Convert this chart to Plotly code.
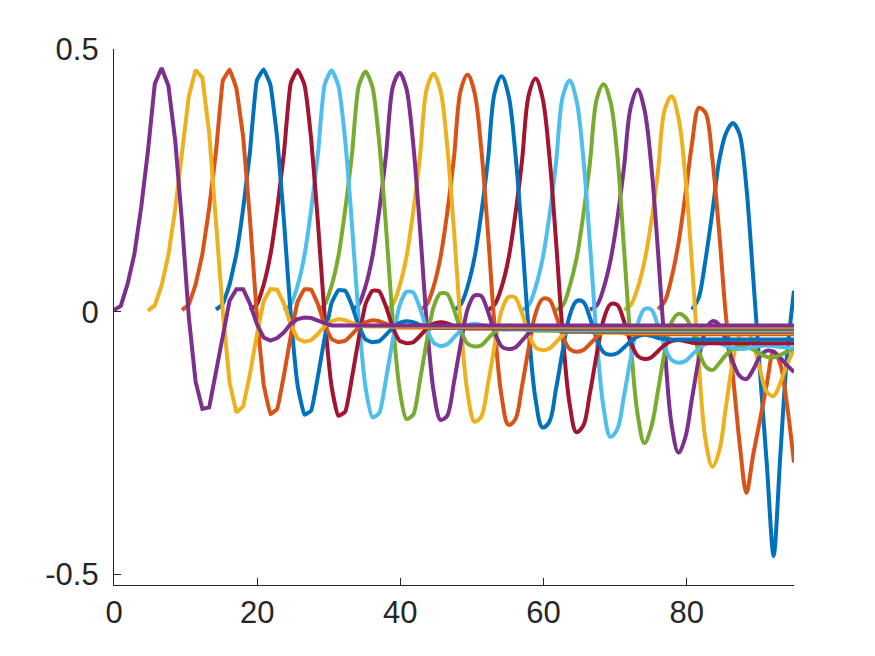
import plotly.graph_objects as go

# sample grid of the plot: 101 samples from 0 to 95
x_step = 0.95
n_samples = 101
shift = 5  # each curve starts 5 samples after the previous one

# values, one list per curve (curve k starts at sample 5*k);
# after the listed samples the curve stays flat at its tail level
curve_00 = [0.003, 0.011, 0.053, 0.110, 0.199, 0.307, 0.434, 0.464, 0.430, 0.326, 0.170,
            -0.010, -0.133, -0.185, -0.182, -0.115, -0.042, 0.021, 0.043, 0.043, 0.015,
            -0.023, -0.049, -0.055, -0.050, -0.039, -0.023, -0.014, -0.011, -0.012, -0.017,
            -0.022, -0.026]
curve_01 = [0.002, 0.012, 0.050, 0.108, 0.195, 0.300, 0.410, 0.460, 0.445, 0.340, 0.180,
            0.000, -0.135, -0.192, -0.180, -0.118, -0.045, 0.020, 0.043, 0.042, 0.015,
            -0.025, -0.051, -0.057, -0.054, -0.042, -0.027, -0.018, -0.014, -0.016, -0.021,
            -0.026, -0.028]
curve_02 = [0.003, 0.014, 0.052, 0.110, 0.198, 0.305, 0.440, 0.461, 0.425, 0.332, 0.175,
            -0.005, -0.138, -0.195, -0.185, -0.120, -0.046, 0.019, 0.043, 0.042, 0.014,
            -0.026, -0.052, -0.058, -0.055, -0.043, -0.029, -0.020, -0.016, -0.018, -0.023,
            -0.028, -0.030]
curve_03 = [0.004, 0.015, 0.052, 0.110, 0.197, 0.305, 0.440, 0.461, 0.432, 0.330, 0.172,
            -0.008, -0.140, -0.196, -0.188, -0.122, -0.048, 0.017, 0.041, 0.040, 0.012,
            -0.028, -0.053, -0.058, -0.056, -0.044, -0.030, -0.021, -0.018, -0.020, -0.025,
            -0.029, -0.031]
curve_04 = [0.003, 0.014, 0.051, 0.108, 0.196, 0.303, 0.435, 0.460, 0.432, 0.328, 0.168,
            -0.012, -0.142, -0.198, -0.190, -0.125, -0.050, 0.015, 0.040, 0.039, 0.010,
            -0.030, -0.055, -0.060, -0.058, -0.046, -0.032, -0.023, -0.020, -0.022, -0.027,
            -0.031, -0.032]
curve_05 = [0.003, 0.014, 0.050, 0.107, 0.195, 0.302, 0.433, 0.459, 0.430, 0.326, 0.165,
            -0.015, -0.145, -0.201, -0.193, -0.128, -0.053, 0.012, 0.038, 0.037, 0.007,
            -0.033, -0.059, -0.065, -0.062, -0.049, -0.035, -0.026, -0.023, -0.025, -0.029,
            -0.033, -0.034]
curve_06 = [0.003, 0.014, 0.050, 0.106, 0.194, 0.300, 0.430, 0.457, 0.428, 0.323, 0.162,
            -0.018, -0.148, -0.204, -0.196, -0.130, -0.056, 0.009, 0.035, 0.034, 0.004,
            -0.036, -0.061, -0.066, -0.064, -0.051, -0.038, -0.029, -0.026, -0.028, -0.032,
            -0.035, -0.036]
curve_07 = [0.003, 0.014, 0.049, 0.105, 0.192, 0.298, 0.428, 0.455, 0.425, 0.320, 0.158,
            -0.022, -0.151, -0.206, -0.198, -0.134, -0.060, 0.005, 0.031, 0.030, 0.000,
            -0.040, -0.066, -0.071, -0.068, -0.055, -0.041, -0.032, -0.029, -0.031, -0.035,
            -0.038, -0.038]
curve_08 = [0.003, 0.014, 0.049, 0.104, 0.190, 0.296, 0.425, 0.453, 0.422, 0.316, 0.154,
            -0.026, -0.155, -0.209, -0.200, -0.137, -0.063, 0.002, 0.028, 0.027, -0.003,
            -0.043, -0.068, -0.073, -0.070, -0.058, -0.044, -0.035, -0.032, -0.034, -0.038,
            -0.040, -0.040]
curve_09 = [0.003, 0.014, 0.048, 0.103, 0.188, 0.294, 0.422, 0.451, 0.418, 0.311, 0.148,
            -0.032, -0.161, -0.215, -0.205, -0.142, -0.068, -0.003, 0.024, 0.023, -0.007,
            -0.047, -0.071, -0.076, -0.073, -0.061, -0.048, -0.039, -0.036, -0.038, -0.041,
            -0.043, -0.043]
curve_10 = [0.003, 0.014, 0.048, 0.102, 0.186, 0.290, 0.418, 0.448, 0.413, 0.305, 0.142,
            -0.038, -0.167, -0.220, -0.210, -0.147, -0.073, -0.008, 0.020, 0.019, -0.012,
            -0.052, -0.077, -0.082, -0.079, -0.068, -0.056, -0.047, -0.044, -0.046, -0.050,
            -0.052, -0.053]
curve_11 = [0.003, 0.014, 0.047, 0.100, 0.183, 0.287, 0.413, 0.444, 0.408, 0.300, 0.135,
            -0.045, -0.175, -0.229, -0.217, -0.154, -0.080, -0.015, 0.014, 0.013, -0.018,
            -0.058, -0.084, -0.090, -0.087, -0.075, -0.063, -0.056, -0.054, -0.056, -0.059,
            -0.060, -0.060]
curve_12 = [0.003, 0.013, 0.047, 0.099, 0.180, 0.283, 0.410, 0.440, 0.403, 0.295, 0.128,
            -0.052, -0.183, -0.238, -0.224, -0.160, -0.088, -0.024, 0.005, 0.004, -0.027,
            -0.067, -0.092, -0.097, -0.094, -0.082, -0.070, -0.061, -0.058, -0.060, -0.065,
            -0.069, -0.071, -0.070, -0.067, -0.065, -0.064, -0.065, -0.067, -0.068, -0.068]
curve_13 = [0.003, 0.012, 0.048, 0.100, 0.183, 0.285, 0.405, 0.433, 0.400, 0.300, 0.120,
            -0.060, -0.195, -0.250, -0.220, -0.150, -0.075, -0.020, -0.004, -0.010, -0.035,
            -0.075, -0.104, -0.111, -0.098, -0.082, -0.070, -0.064, -0.065, -0.072, -0.080,
            -0.086, -0.087, -0.082, -0.076, -0.070]
curve_14 = [0.004, 0.012, 0.045, 0.097, 0.175, 0.275, 0.390, 0.423, 0.385, 0.280, 0.115,
            -0.070, -0.215, -0.268, -0.240, -0.165, -0.090, -0.035, -0.018, -0.025, -0.055,
            -0.095, -0.122, -0.128, -0.110, -0.085, -0.074, -0.076, -0.088, -0.102, -0.115]
curve_15 = [0.004, 0.013, 0.045, 0.095, 0.170, 0.268, 0.385, 0.410, 0.370, 0.260, 0.090,
            -0.100, -0.245, -0.295, -0.265, -0.180, -0.095, -0.045, -0.035, -0.060, -0.110,
            -0.152, -0.160, -0.135, -0.100, -0.071]
curve_16 = [0.005, 0.020, 0.065, 0.130, 0.220, 0.320, 0.388, 0.378, 0.290, 0.150, -0.010,
            -0.120, -0.250, -0.345, -0.272, -0.206, -0.138, -0.075, -0.100, -0.180, -0.287]
curve_17 = [0.004, 0.027, 0.100, 0.190, 0.288, 0.340, 0.359, 0.338, 0.237, 0.065, -0.116,
            -0.290, -0.465, -0.271, -0.078, 0.040]

curves = [curve_00, curve_01, curve_02, curve_03, curve_04, curve_05, curve_06, curve_07,
          curve_08, curve_09, curve_10, curve_11, curve_12, curve_13, curve_14, curve_15,
          curve_16, curve_17]
tails = [-0.026, -0.028, -0.030, -0.031, -0.032, -0.034, -0.036, -0.038, -0.040, -0.043,
         -0.053, -0.060, -0.068, None, None, None, None, None]

# the first curves show their corners, the later ones look smooth
smoothing = [0, 0, 0.15, 0.3, 0.45, 0.6, 0.7, 0.8, 0.9, 1.0, 1.0, 1.0, 1.0, 1.0, 1.0,
             1.0, 0.9, 0.8]

# MATLAB default colour order
colors = ["#0072BD", "#D95319", "#EDB120", "#7E2F8E", "#77AC30", "#4DBEEE", "#A2142F"]

x_ticks = [0, 20, 40, 60, 80]
y_ticks = [-0.5, 0, 0.5]
y_tick_text = ["-0.5", "0", "0.5"]

fig = go.Figure()

# MATLAB plots the last curve first, so draw from k=17 down to k=0
n_curves = len(curves)
for order, k in enumerate(range(n_curves - 1, -1, -1)):
    start = shift * k
    n = n_samples - start
    y = list(curves[k])
    if len(y) < n:
        y += [tails[k]] * (n - len(y))
    x = [(start + i) * x_step for i in range(n)]
    if smoothing[k] > 0:
        line = dict(color=colors[order % len(colors)], width=4,
                    shape="spline", smoothing=smoothing[k])
    else:
        line = dict(color=colors[order % len(colors)], width=4)
    fig.add_trace(go.Scatter(x=x, y=y, mode="lines", line=line,
                             showlegend=False, hoverinfo="skip"))

axis_style = dict(
    showline=True, linecolor="#262626", linewidth=1.3,
    ticks="inside", ticklen=7, tickwidth=1.3, tickcolor="#262626",
    showgrid=False, zeroline=False, mirror=False,
    tickfont=dict(family="Liberation Sans, Arial, sans-serif", size=31, color="#262626"),
)

fig.update_xaxes(range=[0, 95], tickvals=x_ticks, **axis_style)
fig.update_yaxes(range=[-0.52, 0.5], tickvals=y_ticks, ticktext=y_tick_text,
                 ticklabelstandoff=8, **axis_style)

# the page adds an 8 px body margin, so shift the plot area back by that much
fig.update_layout(
    width=875, height=656,
    margin=dict(l=106, r=89, t=41, b=79),
    plot_bgcolor="white", paper_bgcolor="white",
)

fig.write_html("out.html")
